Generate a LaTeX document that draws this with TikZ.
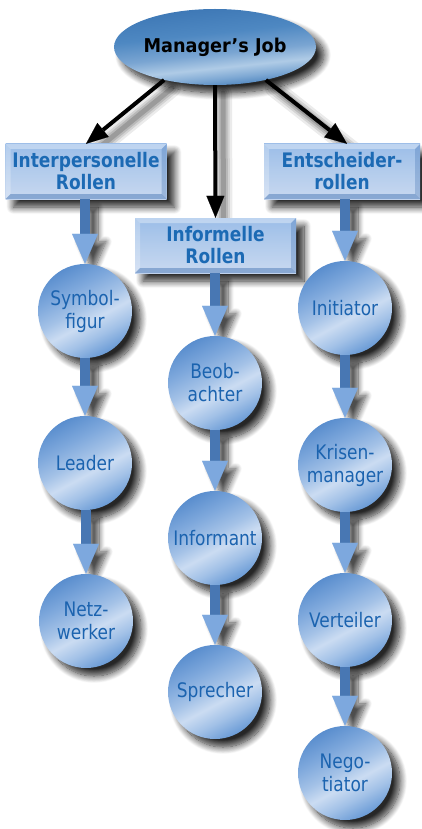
\documentclass[tikz,border=0pt]{standalone}
\usepackage{fontspec}
\setmainfont{DejaVu Sans}
\newfontfamily\hfont{DejaVu Sans}[FakeStretch=0.85]
\newfontfamily\jfont{DejaVu Sans}[FakeStretch=0.93]
\newfontfamily\cfont{DejaVu Sans}[FakeStretch=0.85]
\usetikzlibrary{arrows.meta,shadows.blur,calc,shapes.geometric}

\definecolor{hdtext}{HTML}{1C6AB4}
\definecolor{ctext}{HTML}{1B63AF}
\definecolor{ashaft}{HTML}{4877B3}
\definecolor{ahead}{HTML}{7DA8DE}
\definecolor{o1}{HTML}{6A9BD6}
\definecolor{o2}{HTML}{A2C1E7}
\definecolor{o3}{HTML}{CBDCF2}
\definecolor{o4}{HTML}{A4C2E7}
\definecolor{o5}{HTML}{7EA8DC}
\definecolor{o6}{HTML}{5A8ECE}
\definecolor{b1}{HTML}{C8D8F0}
\definecolor{b2}{HTML}{B3CCEC}
\definecolor{b3}{HTML}{9BBDE8}
\definecolor{e1}{HTML}{3F7AB8}
\definecolor{e2}{HTML}{7FA9D4}
\definecolor{e3}{HTML}{AFCBE6}
\definecolor{e4}{HTML}{7AA5D2}
\definecolor{e5}{HTML}{4E88C2}
\definecolor{e6}{HTML}{3C76B4}
\definecolor{bevdark}{HTML}{3E6FB0}

% shadings: sphere-like band for the role circles, soft band for the ellipse
\pgfdeclareverticalshading{orb}{100bp}{color(0bp)=(o1); color(25bp)=(o1); color(35bp)=(o2); color(44bp)=(o3); color(52bp)=(o4); color(63bp)=(o5); color(75bp)=(o6); color(100bp)=(o6)}
\pgfdeclareverticalshading{boxsh}{100bp}{color(0bp)=(b1); color(25bp)=(b1); color(50bp)=(b2); color(75bp)=(b3); color(100bp)=(b3)}
\pgfdeclareverticalshading{ellsh}{100bp}{color(0bp)=(e1); color(25bp)=(e1); color(32bp)=(e2); color(38bp)=(e3); color(46bp)=(e4); color(58bp)=(e5); color(75bp)=(e6); color(100bp)=(e6)}

\pgfdeclarelayer{bg}
\pgfsetlayers{bg,main}

\newcommand\pbb{path picture bounding box}

\tikzset{
  softshadow/.style={blur shadow={shadow xshift=8pt, shadow yshift=-8pt, shadow blur radius=7pt, shadow blur steps=12, shadow opacity=85}},
  orbnode/.style={circle, minimum size=94pt, inner sep=0pt, shade, shading=orb, shading angle=28,
    align=center, font=\cfont\fontsize{20}{23}\selectfont, text=ctext, softshadow},
  hdbox/.style={rectangle, minimum width=161pt, minimum height=55pt, inner sep=0pt, shade, shading=boxsh,
    align=center, font=\hfont\bfseries\fontsize{20}{22}\selectfont, text=hdtext, softshadow,
    path picture={
      \fill[white,opacity=0.35] (\pbb.north west) -- (\pbb.north east) -- ([xshift=-5pt,yshift=-5pt]\pbb.north east) -- ([xshift=5pt,yshift=-5pt]\pbb.north west) -- cycle;
      \fill[white,opacity=0.25] (\pbb.north west) -- ([xshift=5pt,yshift=-5pt]\pbb.north west) -- ([xshift=5pt,yshift=5pt]\pbb.south west) -- (\pbb.south west) -- cycle;
      \fill[bevdark,opacity=0.45] (\pbb.south west) -- ([xshift=5pt,yshift=5pt]\pbb.south west) -- ([xshift=-5pt,yshift=5pt]\pbb.south east) -- (\pbb.south east) -- cycle;
      \fill[bevdark,opacity=0.3] (\pbb.south east) -- ([xshift=-5pt,yshift=5pt]\pbb.south east) -- ([xshift=-5pt,yshift=-5pt]\pbb.north east) -- (\pbb.north east) -- cycle;
    }},
  blk/.style={line width=4pt, black, -{Triangle[width=18pt,length=22pt,line width=0.1pt]}},
  barrow/.style={draw=ashaft, line width=10pt, -{Triangle[width=26pt,length=30pt,line width=0.1pt,color=ahead]}},
  arrowshadow/.style={blur shadow={shadow xshift=8pt, shadow yshift=-8pt, shadow blur radius=6pt, shadow blur steps=10, shadow opacity=70}},
}

% blue block arrow from one node down to the next, with its shadow behind
\newcommand\bluelink[2]{%
  \begin{pgfonlayer}{bg}
    \path[arrowshadow] let \p1=(#1.south), \p2=(#2.north) in
      (\x2-5pt,\y1) -- (\x2+5pt,\y1) -- (\x2+5pt,\y2+30pt) -- (\x2+13pt,\y2+30pt)
      -- (\x2,\y2) -- (\x2-13pt,\y2+30pt) -- (\x2-5pt,\y2+30pt) -- cycle;
  \end{pgfonlayer}
  \draw[barrow] (#1.south -| #2.north) -- (#2.north);
}

% shadow of a black connector: stacked translucent strokes
\newcommand\blkshadow[2]{%
  \begin{pgfonlayer}{bg}
    \foreach \w/\o in {18/0.08,13/0.1,9/0.12,5/0.16}
      \draw[line width=\w pt, black, opacity=\o, line cap=round, transform canvas={shift={(8pt,-8pt)}}] #1 -- #2;
  \end{pgfonlayer}
}

\begin{document}
\begin{tikzpicture}[x=1pt,y=-1pt]
  \useasboundingbox (0,0) rectangle (422,829);

  % top ellipse
  \node[ellipse, minimum width=172pt, minimum height=76pt, inner sep=0pt, shade, shading=ellsh, shading angle=6,
        font=\jfont\bfseries\fontsize{19}{22}\selectfont, text=black, softshadow] (mj) at (215,47) {Manager’s Job};

  % role groups
  \node[hdbox] (ip) at (86,171.5) {Interpersonelle\\Rollen};
  \node[hdbox] (inf) at (215.5,245.5) {Informelle\\Rollen};
  \node[hdbox, minimum width=156pt] (ed) at (342,171.5) {Entscheider-\\rollen};

  % interpersonal roles
  \node[orbnode] (sym) at (85,311) {Symbol-\\figur};
  \node[orbnode] (lead) at (85,463) {Leader};
  \node[orbnode] (netz) at (86,621) {Netz-\\werker};

  % informational roles
  \node[orbnode] (beob) at (215,383) {Beob-\\achter};
  \node[orbnode] (infm) at (215,538) {Informant};
  \node[orbnode] (spr) at (215,692) {Sprecher};

  % decisional roles
  \node[orbnode] (init) at (345,308) {Initiator};
  \node[orbnode] (kris) at (345,465) {Krisen-\\manager};
  \node[orbnode] (vert) at (345,620) {Verteiler};
  \node[orbnode] (nego) at (345,773) {Nego-\\tiator};

  % connectors from the job to the three groups
  \blkshadow{(mj.213)}{(ip.north)}
  \blkshadow{(mj.south)}{(inf.north)}
  \blkshadow{(mj.327)}{([xshift=5pt]ed.north)}
  \draw[blk] (mj.213) -- (ip.north);
  \draw[blk] (mj.south) -- (inf.north);
  \draw[blk] (mj.327) -- ([xshift=5pt]ed.north);

  % chains of roles
  \bluelink{ip}{sym}
  \bluelink{sym}{lead}
  \bluelink{lead}{netz}
  \bluelink{inf}{beob}
  \bluelink{beob}{infm}
  \bluelink{infm}{spr}
  \bluelink{ed}{init}
  \bluelink{init}{kris}
  \bluelink{kris}{vert}
  \bluelink{vert}{nego}
\end{tikzpicture}
\end{document}
